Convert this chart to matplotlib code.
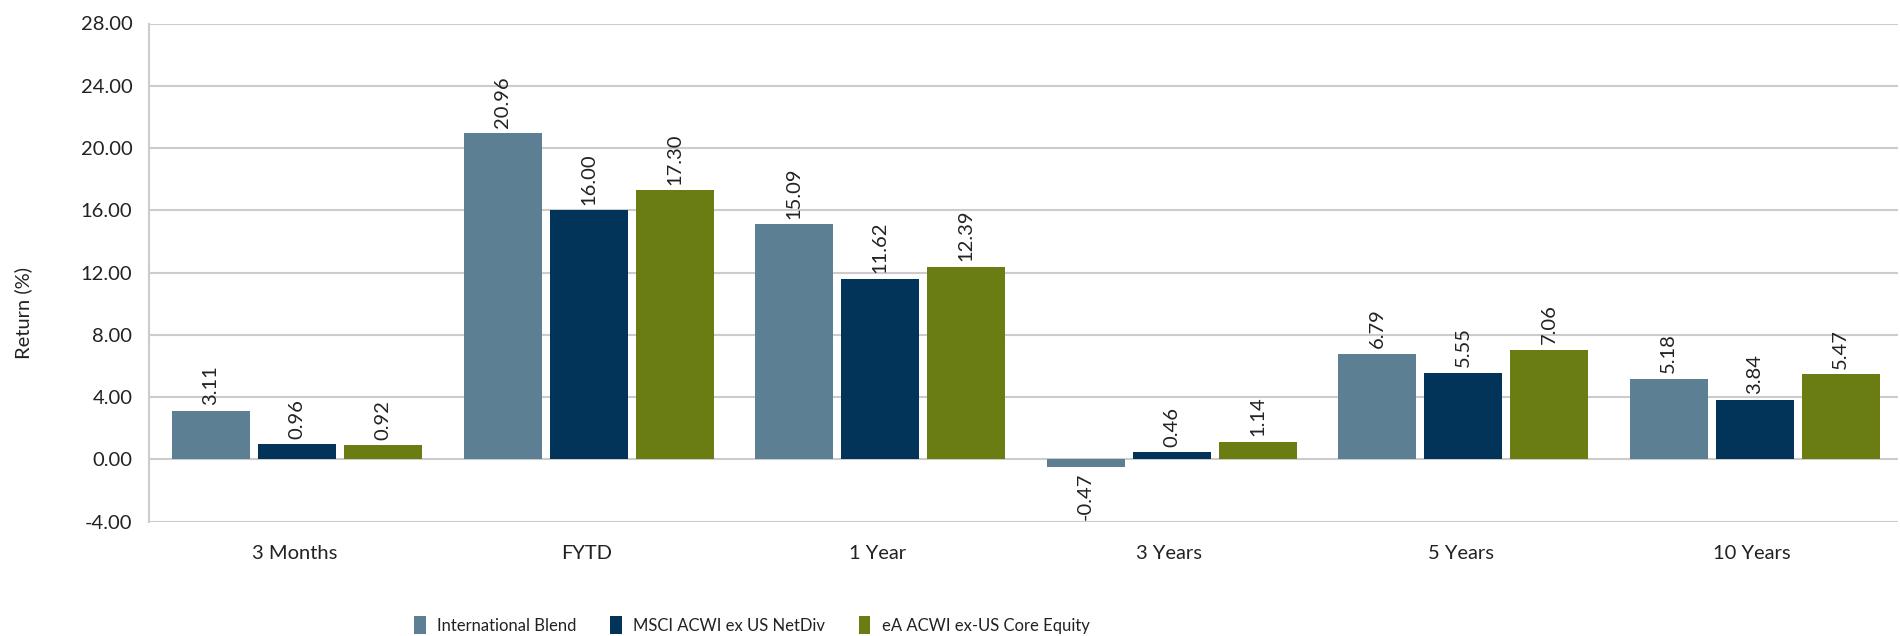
import matplotlib
matplotlib.use("Agg")
import matplotlib.pyplot as plt
from matplotlib.patches import Patch
import numpy as np

categories = ["3 Months", "FYTD", "1 Year", "3 Years", "5 Years", "10 Years"]
series_names = ["International Blend", "MSCI ACWI ex US NetDiv", "eA ACWI ex-US Core Equity"]
intl_blend = [3.11, 20.96, 15.09, -0.47, 6.79, 5.18]
msci_acwi = [0.96, 16.00, 11.62, 0.46, 5.55, 3.84]
ea_core = [0.92, 17.30, 12.39, 1.14, 7.06, 5.47]
y_ticks = [-4, 0, 4, 8, 12, 16, 20, 24, 28]

colors = ["#5C7F93", "#02345A", "#6A7D12"]
font = ["Lato", "DejaVu Sans"]
plt.rcParams["font.family"] = font

fig = plt.figure(figsize=(19, 6.36), dpi=100)
ax = fig.add_axes([149/1900, 1-521.7/636, (1898-149)/1900, (521.7-23.5)/636])

x = np.arange(len(categories))
slot = 0.295
width = 0.268
series = [intl_blend, msci_acwi, ea_core]
for i, (vals, c) in enumerate(zip(series, colors)):
    pos = x + (i - 1) * slot + 0.008
    ax.bar(pos, vals, width=width, color=c, zorder=3)
    for xp, v in zip(pos, vals):
        if v >= 0:
            ax.annotate(f"{v:.2f}", (xp, v), xytext=(0, 4), textcoords="offset points",
                        rotation=90, ha="center", va="bottom", fontsize=14.5, color="#222222")
        else:
            ax.annotate(f"{v:.2f}", (xp, v), xytext=(0, -4), textcoords="offset points",
                        rotation=90, ha="center", va="top", fontsize=14.5, color="#222222")

ax.set_xlim(-0.5, len(categories) - 0.5)
ax.set_ylim(-4, 28)
ax.set_yticks(y_ticks)
ax.set_yticklabels([f"{t:.2f}" for t in y_ticks], fontsize=14.5, color="#222222")
ax.set_xticks(x)
ax.set_xticklabels(categories, fontsize=14.5, color="#222222")
ax.tick_params(axis="both", length=0)
ax.tick_params(axis="y", pad=12)
ax.tick_params(axis="x", pad=17)
ax.grid(axis="y", color="#CCCCCC", linewidth=1.5, zorder=0)
for s in ["top", "right", "bottom"]:
    ax.spines[s].set_visible(False)
ax.spines["left"].set_color("#CCCCCC")
ax.spines["left"].set_linewidth(1.5)

fig.text(23/1900, 1-313/636, "Return (%)", rotation=90, ha="center", va="center",
         fontsize=14.5, color="#222222")

handles = [Patch(facecolor=c, edgecolor="none") for c in colors]
fig.legend(handles=handles, labels=series_names, ncol=3,
           loc="center", bbox_to_anchor=(752/1900, 1-625/636), frameon=False,
           fontsize=12, handlelength=0.7, handleheight=1.3, handletextpad=0.7,
           columnspacing=2.0, labelcolor="#222222")

fig.savefig("out.png", dpi=100)
